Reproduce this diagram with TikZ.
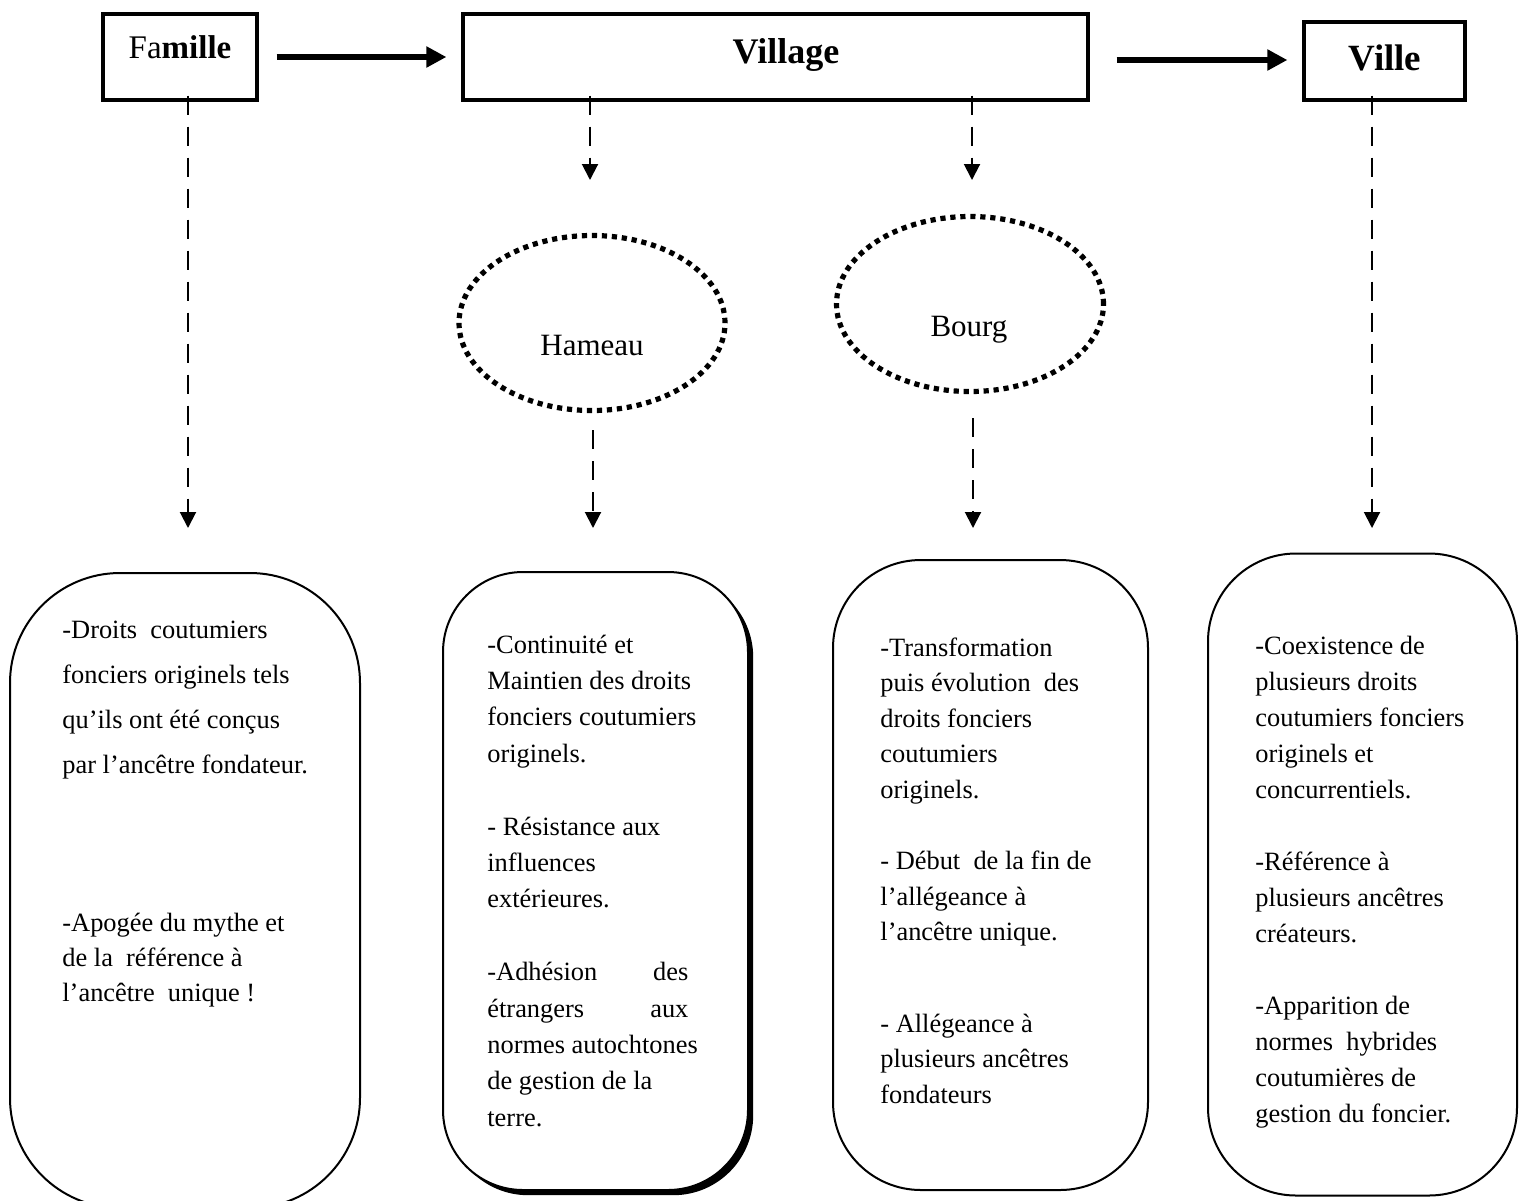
\documentclass[tikz,border=0pt]{standalone}
\usepackage{fontspec}
\setmainfont{Liberation Serif}
\usetikzlibrary{arrows.meta,shapes.geometric,shadows}
\newcommand\mline[1]{\hbox{#1}}
\newcommand\textblock[2]{\vtop{\fontsize{13.2pt}{#1}\selectfont\baselineskip=#1\relax\lineskiplimit=-50pt\relax #2}}
\tikzset{
  topbox/.style={draw, line width=1.6pt, inner sep=0pt, rectangle},
  bigarrow/.style={line width=2.8pt, -{Triangle[length=10pt,width=10pt]}},
  dasharrow/.style={line width=1pt, dash pattern=on 9.5pt off 6pt, -{Triangle[length=8pt,width=8pt]}},
  dotell/.style={draw, ellipse, line width=2.6pt, dash pattern=on 2.6pt off 2.4pt, inner sep=0pt},
  roundbox/.style={draw, line width=1pt, rectangle, inner sep=0pt, fill=white},
  txt/.style={anchor=base west, inner sep=0pt},
  lbl/.style={anchor=base, inner sep=0pt},
}
\begin{document}
\begin{tikzpicture}[x=0.5pt,y=-0.5pt]
\useasboundingbox (0,0) rectangle (1520,1200);
\fill[white] (0,0) rectangle (1520,1200);

% top boxes
\node[topbox, minimum width=77pt, minimum height=43pt] (famille) at (180,57) {};
\node[topbox, minimum width=312.5pt, minimum height=43pt] (village) at (775.5,57) {};
\node[topbox, minimum width=80.5pt, minimum height=39pt] (ville) at (1384.5,61) {};
\node[lbl, font=\fontsize{16.5pt}{20pt}\selectfont] (lfam) at (180,58) {Fa\textbf{mille}};
\node[lbl, font=\fontsize{18pt}{22pt}\selectfont\bfseries] (lvil) at (786,63) {Village};
\node[lbl, font=\fontsize{18.5pt}{22pt}\selectfont\bfseries] (lvle) at (1385,70) {Ville};

% thick arrows
\draw[bigarrow, shorten <=9pt, shorten >=7.5pt] (famille) -- (village);
\draw[bigarrow] ([xshift=13.5pt,yshift=-1.5pt]village.east) -- ([xshift=-7.5pt,yshift=0.5pt]ville.west);

% ellipses
\node[dotell, minimum width=133pt, minimum height=87.5pt] (hameau) at (592,323) {};
\node[dotell, minimum width=133.5pt, minimum height=87.5pt] (bourg) at (970,304) {};
\node[lbl, font=\fontsize{15.5pt}{19pt}\selectfont] (lham) at (592,355) {Hameau};
\node[lbl, font=\fontsize{15.5pt}{19pt}\selectfont] (lbou) at (969,336) {Bourg};

% rounded boxes
\node[roundbox, rounded corners=55pt, minimum width=175pt, minimum height=317.5pt] (box1) at (185,890.5) {};
\node[roundbox, rounded corners=40pt, minimum width=152.5pt, minimum height=309pt,
      drop shadow={shadow xshift=2.6pt, shadow yshift=-2.6pt, fill=black, opacity=1}] (box2) at (595.5,881) {};
\node[roundbox, rounded corners=44pt, minimum width=157.5pt, minimum height=315pt] (box3) at (990.5,875) {};
\node[roundbox, rounded corners=44pt, minimum width=154.5pt, minimum height=321pt] (box4) at (1362.5,874.5) {};

% arrow end points
\coordinate (e1) at (188,528);
\coordinate (e2) at (590,180);
\coordinate (e3) at (972,180);
\coordinate (e4) at (593,528);
\coordinate (e5) at (973,528);
\coordinate (e6) at (1372,528);
\coordinate (s4) at (593,430);
\coordinate (s5) at (973,418);

\draw[dasharrow] ([xshift=4pt,yshift=3pt]famille.south) -- (e1);
\draw[dasharrow] (village.south -| e2) ++(0,-6) -- (e2);
\draw[dasharrow] (village.south -| e3) ++(0,-6) -- (e3);
\draw[dasharrow] (s4) -- (e4);
\draw[dasharrow] (s5) -- (e5);
\draw[dasharrow] ([xshift=-6.25pt,yshift=3pt]ville.south) -- (e6);

% texts
\node[txt] (t1) at (62,638) {\textblock{17.5pt}{%
\mline{-Droits\ \ coutumiers}\vskip5pt
\mline{fonciers originels tels}\vskip5pt
\mline{qu’ils ont été conçus}\vskip5pt
\mline{par l’ancêtre fondateur.}\vskip61.5pt
\mline{-Apogée du mythe et}
\mline{de la\ \ référence à}
\mline{l’ancêtre\ \ unique !}}};

\node[txt] (t2) at (487,653) {\textblock{18.2pt}{%
\mline{-Continuité et}
\mline{Maintien des droits}
\mline{fonciers coutumiers}
\mline{originels.}\vskip18.2pt
\mline{- Résistance aux}
\mline{influences}
\mline{extérieures.}\vskip18.2pt
\hbox to 100.5pt{-Adhésion\hfill des}
\hbox to 100.5pt{étrangers\hfill aux}
\mline{normes autochtones}
\mline{de gestion de la}
\mline{terre.}}};

\node[txt] (t3) at (880,656) {\textblock{17.8pt}{%
\mline{-Transformation}
\mline{puis évolution\ \ des}
\mline{droits fonciers}
\mline{coutumiers}
\mline{originels.}\vskip17.8pt
\mline{- Début\ \ de la fin de}
\mline{l’allégeance à}
\mline{l’ancêtre unique.}\vskip27.8pt
\mline{- Allégeance à}
\mline{plusieurs ancêtres}
\mline{fondateurs}}};

\node[txt] (t4) at (1255,654) {\textblock{18pt}{%
\mline{-Coexistence de}
\mline{plusieurs droits}
\mline{coutumiers fonciers}
\mline{originels et}
\mline{concurrentiels.}\vskip18pt
\mline{-Référence à}
\mline{plusieurs ancêtres}
\mline{créateurs.}\vskip18pt
\mline{-Apparition de}
\mline{normes\ \ hybrides}
\mline{coutumières de}
\mline{gestion du foncier.}}};
\end{tikzpicture}
\end{document}
